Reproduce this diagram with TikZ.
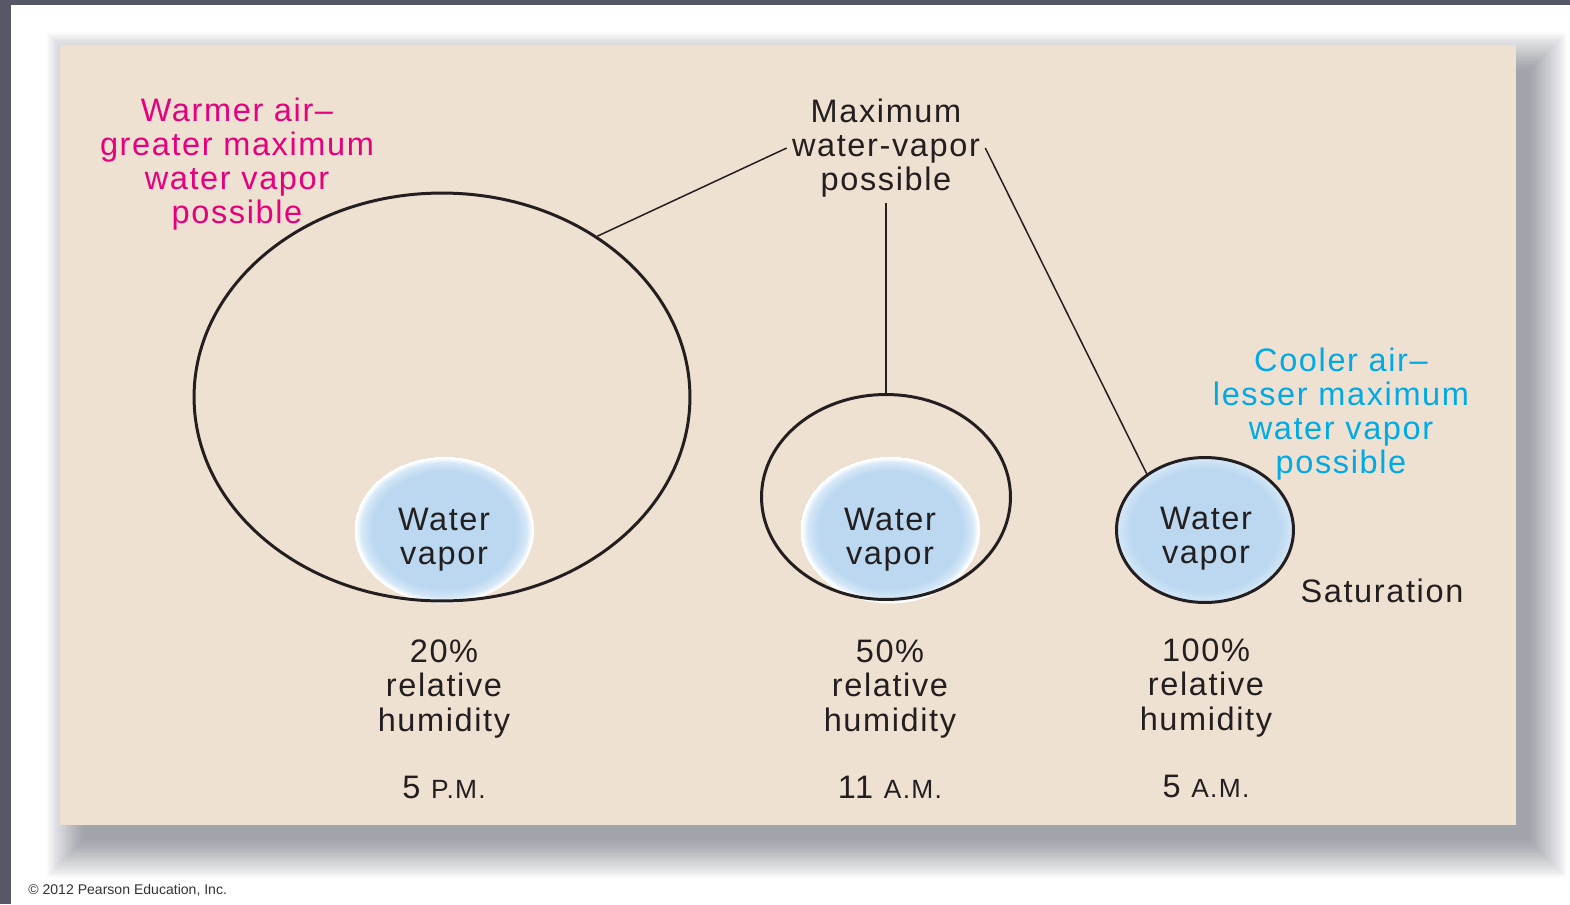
\documentclass[tikz,border=0pt]{standalone}
\usepackage{fontspec}
\setmainfont{Liberation Sans}[LetterSpace=5]
\newfontfamily\plainfont{Liberation Sans}
\usetikzlibrary{shapes.geometric}

\definecolor{panelbeige}{RGB}{239,225,209}
\definecolor{framegray}{RGB}{86,88,104}
\definecolor{shadowgray}{RGB}{70,74,90}
\definecolor{inkgray}{RGB}{35,31,32}
\definecolor{warmpink}{RGB}{230,0,126}
\definecolor{coolcyan}{RGB}{0,170,230}
\definecolor{vaporblue}{RGB}{187,216,240}
\definecolor{vaporedge}{RGB}{214,232,247}

\pgfdeclareradialshading{vaporglow}{\pgfpoint{0bp}{0bp}}{color(0bp)=(vaporblue); color(20bp)=(vaporblue); color(23bp)=(vaporedge); color(24.5bp)=(white); color(25bp)=(white)}
\pgfdeclareradialshading{vaporfill}{\pgfpoint{0bp}{0bp}}{color(0bp)=(vaporblue); color(21bp)=(vaporblue); color(25bp)=(vaporedge)}

\begin{document}
\begin{tikzpicture}[
    x=0.02cm, y=-0.02cm,
    every node/.style={text=inkgray, font=\fontsize{18.5}{19.5}\selectfont, align=center, inner sep=0.1cm},
    maxline/.style={draw=inkgray, line width=0.85pt},
    airedge/.style={ellipse, draw=inkgray, line width=1.7pt, inner sep=0pt},
    vapor/.style={ellipse, shading=vaporglow, inner sep=0pt},
    timelabel/.style={font=\fontsize{18.5}{19.5}\selectfont}
]
    \useasboundingbox (0,0) rectangle (1570,904);
    \fill[white] (0,0) rectangle (1570,904);
    \fill[framegray] (0,0) rectangle (1570,5);
    \fill[framegray] (0,0) rectangle (11,904);

    % soft shadow behind the panel
    \foreach \i in {0,...,29}
        \fill[shadowgray, opacity=0.018] (84-\i*1.3,70-\i*1.3) rectangle (1529+\i*1.3,840+\i*1.3);
    \fill[panelbeige] (60,45) rectangle (1516,825);

    % water vapor blobs
    \node[vapor, minimum width=3.6cm, minimum height=2.94cm] (vap5pm) at (444,530) {};
    \node[vapor, minimum width=3.6cm, minimum height=2.94cm] (vap11am) at (890,530) {};

    % air capacity
    \node[airedge, minimum width=9.92cm, minimum height=8.16cm] (big) at (442,397) {};
    \node[airedge, minimum width=4.98cm, minimum height=4.1cm] (mid) at (886,497) {};
    \node[airedge, shading=vaporfill, minimum width=3.54cm, minimum height=2.9cm] (sat) at (1205,530) {};

    \node (vap5pmtxt) at (444,540) {Water\\vapor};
    \node (vap11amtxt) at (890,540) {Water\\vapor};
    \node (vap5amtxt) at (1206,539) {Water\\vapor};

    \node[text=warmpink] (warm) at (237,164) {Warmer air--\\greater maximum\\water vapor\\possible};
    \node (maxtext) at (886,148) {Maximum\\water-vapor\\possible};
    \node[text=coolcyan] (cool) at (1341,414) {Cooler air--\\lesser maximum\\water vapor\\possible};
    \node (saturation) at (1382,591) {Saturation};

    \node (rh5pm) at (444,689) {20\%\\relative\\humidity};
    \node (rh11am) at (890,689) {50\%\\relative\\humidity};
    \node (rh5am) at (1206,688) {100\%\\relative\\humidity};

    \node[timelabel] (t5pm) at (444,787) {5 {\fontsize{15}{15}\selectfont P.M.}};
    \node[timelabel] (t11am) at (890,787) {11 {\fontsize{15}{15}\selectfont A.M.}};
    \node[timelabel] (t5am) at (1206,786) {5 {\fontsize{15}{15}\selectfont A.M.}};

    \path[maxline] (maxtext.west) -- (big.46);
    \path[maxline] (maxtext.south) -- (mid.north);
    \path[maxline] (maxtext.east) -- (sat.136);

    \node[font=\plainfont\fontsize{8}{9}\selectfont, text=black!80, anchor=west, inner sep=0pt] (copyright) at (28,890) {\textcopyright{} 2012 Pearson Education, Inc.};
\end{tikzpicture}
\end{document}
